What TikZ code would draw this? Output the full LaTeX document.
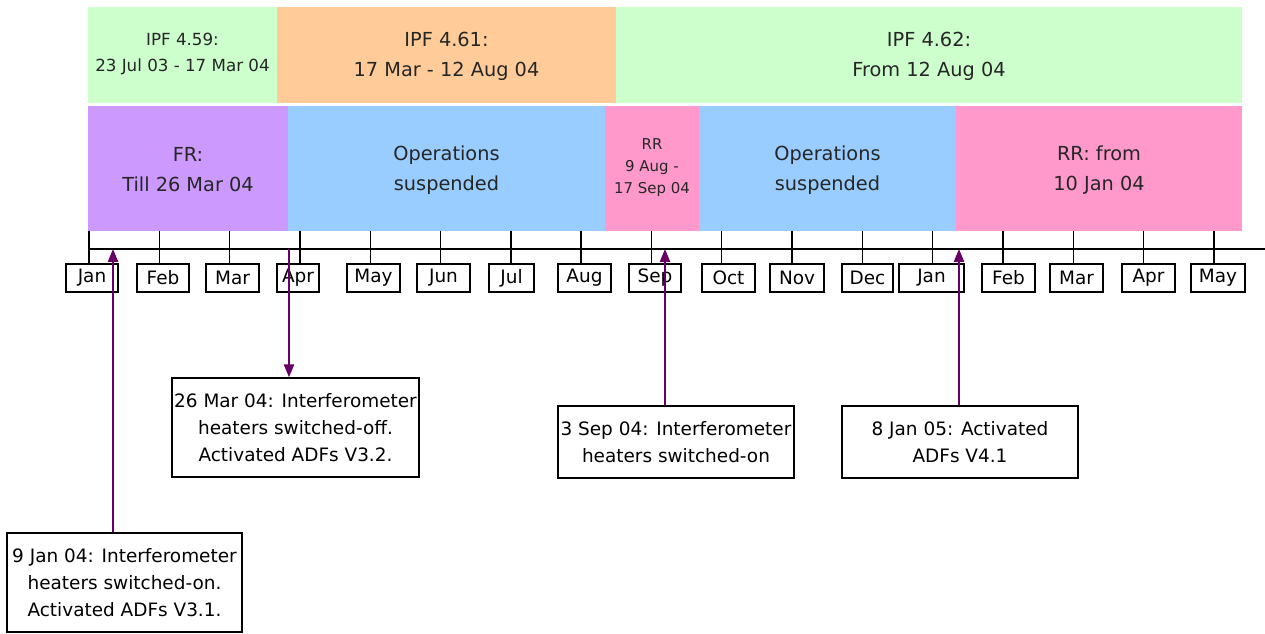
\documentclass[tikz,border=0pt]{standalone}
\usepackage{fontspec}
\setmainfont{DejaVu Sans}
\usepackage{xcolor}
\usepackage{tikz}
\usetikzlibrary{arrows.meta}

\definecolor{ipfgreen}{HTML}{CCFFCC}
\definecolor{ipforange}{HTML}{FFCC99}
\definecolor{frpurple}{HTML}{CC99FF}
\definecolor{opsblue}{HTML}{99CCFF}
\definecolor{rrpink}{HTML}{FF99CC}
\definecolor{evpurple}{HTML}{660066}

\begin{document}
\begin{tikzpicture}[x=0.02cm, y=-0.02cm,
        bandtext/.style={align=center, text=black!85, font=\fontsize{11}{17}\selectfont},
        smalltext/.style={align=center, text=black!85, font=\fontsize{9.5}{14.5}\selectfont},
        rrtext/.style={align=center, text=black!85, font=\fontsize{8.5}{12.5}\selectfont},
        monthbox/.style={draw=black, line width=0.8pt, fill=white, inner sep=0pt, minimum height=0.56cm, font=\fontsize{10.5}{12}\selectfont},
        eventbox/.style={draw=black, line width=0.8pt, fill=white, align=center, inner sep=0pt, font=\fontsize{10.5}{15.4}\selectfont},
        eventarrow/.style={draw=evpurple, line width=1.1pt, -{Triangle[length=7.4pt, width=5.8pt]}}]
    \useasboundingbox (0,0) rectangle (1265,634);

    \fill[ipfgreen] (88,7) rectangle (277,103);
    \fill[ipforange] (277,7) rectangle (616,103);
    \fill[ipfgreen] (616,7) rectangle (1242,103);
    \node[smalltext] (ipf459) at (182.5,54) {IPF 4.59:\\23 Jul 03 - 17 Mar 04};
    \node[bandtext] (ipf461) at (446.5,56) {IPF 4.61:\\17 Mar - 12 Aug 04};
    \node[bandtext] (ipf462) at (929,56) {IPF 4.62:\\From 12 Aug 04};

    \fill[frpurple] (88,106) rectangle (288,231);
    \fill[opsblue] (288,106) rectangle (605,231);
    \fill[rrpink] (605,106) rectangle (699,231);
    \fill[opsblue] (699,106) rectangle (956,231);
    \fill[rrpink] (956,106) rectangle (1242,231);
    \node[bandtext] (fr) at (188,170) {FR:\\Till 26 Mar 04};
    \node[bandtext] (opsa) at (446.5,170) {Operations\\suspended};
    \node[rrtext] (rra) at (652,168) {RR\\9 Aug -\\17 Sep 04};
    \node[bandtext] (opsb) at (827.5,170) {Operations\\suspended};
    \node[bandtext] (rrb) at (1099,170) {RR: from\\10 Jan 04};

    \coordinate (axl) at (88,249);
    \coordinate (axr) at (1265,249);
    \draw[line width=0.8pt] (axl) -- (axr);
    \foreach \mon/\l/\r [count=\i from 0] in {Jan/66/118, Feb/137/189, Mar/206/259, Apr/277/319,
            May/347/400, Jun/417/470, Jul/489/534, Aug/558/611, Sep/629/681, Oct/702/755,
            Nov/770/824, Dec/842/893, Jan/899/964, Feb/982/1035, Mar/1050/1103,
            Apr/1122/1175, May/1191/1245}
    {
        \pgfmathsetmacro{\tx}{89+70.3*\i}
        \pgfmathsetmacro{\cx}{(\l+\r)/2}
        \pgfmathsetmacro{\w}{(\r-\l)*0.02}
        \coordinate (t\i) at (\tx,231);
        \node[monthbox, minimum width=\w cm] (m\i) at (\cx,278) {\mon};
        \draw[line width=0.8pt] (t\i) -- (t\i |- m\i.north);
    }

    \node[eventbox, minimum width=4.7cm, minimum height=1.98cm] (ev0109) at (124.5,582.5)
        {9 Jan 04: Interferometer\\heaters switched-on.\\Activated ADFs V3.1.};
    \node[eventbox, minimum width=4.94cm, minimum height=1.98cm] (ev0326) at (295.5,427.5)
        {26 Mar 04: Interferometer\\heaters switched-off.\\Activated ADFs V3.2.};
    \node[eventbox, minimum width=4.72cm, minimum height=1.44cm] (ev0903) at (676,442)
        {3 Sep 04: Interferometer\\heaters switched-on};
    \node[eventbox, minimum width=4.72cm, minimum height=1.44cm] (ev0108) at (960,442)
        {8 Jan 05: Activated\\ADFs V4.1};

    \coordinate (hit0109) at (113,249);
    \coordinate (hit0326) at (289,249);
    \coordinate (hit0903) at (665,249);
    \coordinate (hit0108) at (959,249);
    \draw[eventarrow] (hit0109 |- ev0109.north) -- (hit0109);
    \draw[eventarrow] (hit0326) -- (hit0326 |- ev0326.north);
    \draw[eventarrow] (hit0903 |- ev0903.north) -- (hit0903);
    \draw[eventarrow] (hit0108 |- ev0108.north) -- (hit0108);
\end{tikzpicture}
\end{document}
